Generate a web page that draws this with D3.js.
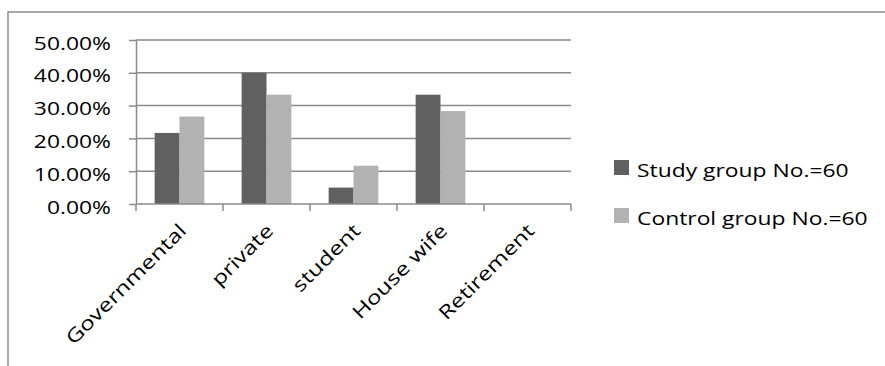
<!DOCTYPE html>
<html>
<head>
<meta charset="utf-8">
<script src="https://cdn.jsdelivr.net/npm/d3@7"></script>
<style>
  html, body { margin: 0; padding: 0; background: #fff; }
  svg { display: block; }
  text { font-family: "Open Sans", "Noto Sans", sans-serif; fill: #000; }
</style>
</head>
<body>
<svg id="chart" width="885" height="366"></svg>
<script>
// ---- data ----
const categories = ["Governmental", "private", "student", "House wife", "Retirement"];
const seriesNames = ["Study group No.=60", "Control group No.=60"];
const studyValues = [21.67, 40.00, 5.00, 33.33, 0];
const controlValues = [26.67, 33.33, 11.67, 28.33, 0];
const yTickValues = [0, 10, 20, 30, 40, 50];
const seriesColors = ["#606060", "#b2b2b2"];

// ---- layout ----
const W = 885, H = 366;
const plotLeft = 136, plotRight = 571, plotTop = 40, plotBottom = 204;
const sx = 1.27; // horizontal stretch of text
const fontSize = 18;
const gridColor = "#8a8a8a";

const svg = d3.select("#chart");

// outer frame (cut off at right and bottom)
svg.append("rect")
  .attr("x", 8).attr("y", 12)
  .attr("width", W + 20).attr("height", H + 20)
  .attr("fill", "none").attr("stroke", "#8c8c8c").attr("stroke-width", 1.5);

const x = d3.scaleBand().domain(categories).range([plotLeft, plotRight]).paddingInner(0).paddingOuter(0);
const bw = x.bandwidth() / 3.5;
const x1 = d3.scaleBand().domain(seriesNames).range([bw * 0.75, bw * 2.75]).padding(0);
const y = d3.scaleLinear().domain([0, 50]).range([plotBottom, plotTop]);

// gridlines
svg.append("g").selectAll("line").data(yTickValues.filter(v => v > 0)).join("line")
  .attr("x1", plotLeft).attr("x2", plotRight)
  .attr("y1", d => y(d)).attr("y2", d => y(d))
  .attr("stroke", gridColor).attr("stroke-width", 1.5);

// bars
const data = categories.map((c, i) => ({ cat: c, vals: [studyValues[i], controlValues[i]] }));
const groups = svg.append("g").selectAll("g").data(data).join("g")
  .attr("transform", d => `translate(${x(d.cat)},0)`);
groups.selectAll("rect").data(d => d.vals.map((v, j) => ({ v, s: seriesNames[j], j }))).join("rect")
  .attr("x", d => x1(d.s))
  .attr("width", x1.bandwidth())
  .attr("y", d => y(d.v))
  .attr("height", d => plotBottom - y(d.v))
  .attr("fill", d => seriesColors[d.j]);

// y axis
const yAxis = d3.axisLeft(y).tickValues(yTickValues).tickSize(7).tickSizeOuter(0)
  .tickFormat(d => d3.format(".2f")(d) + "%");
const gy = svg.append("g").attr("transform", `translate(${plotLeft},0)`).call(yAxis);
gy.select(".domain").attr("stroke", gridColor).attr("stroke-width", 1.5);
gy.selectAll(".tick line").attr("stroke", gridColor).attr("stroke-width", 1.5);
gy.selectAll(".tick text")
  .attr("font-family", "Open Sans").attr("font-size", fontSize)
  .attr("x", -25 / sx).attr("dy", null).attr("y", 9)
  .attr("text-anchor", "end")
  .attr("transform", `scale(${sx},1)`);

// x axis line + ticks at category boundaries
const gx = svg.append("g");
gx.append("line").attr("x1", plotLeft).attr("x2", plotRight)
  .attr("y1", plotBottom).attr("y2", plotBottom)
  .attr("stroke", gridColor).attr("stroke-width", 1.5);
const boundaries = categories.map(c => x(c)).concat([x(categories[categories.length - 1]) + x.bandwidth()]);
gx.selectAll("line.tk").data(boundaries).join("line").attr("class", "tk")
  .attr("x1", d => d).attr("x2", d => d)
  .attr("y1", plotBottom).attr("y2", plotBottom + 7)
  .attr("stroke", gridColor).attr("stroke-width", 1.5);

// rotated category labels
gx.selectAll("text").data(categories).join("text")
  .attr("transform", d => `translate(${x(d) + x.bandwidth() / 2 + 8},232) rotate(-45) scale(${sx},1)`)
  .attr("text-anchor", "end")
  .attr("font-size", 19)
  .text(d => d);

// legend
const legendY = [167.5, 215.5];
const lg = svg.append("g").selectAll("g").data(seriesNames).join("g")
  .attr("transform", (d, i) => `translate(614,${legendY[i]})`);
lg.append("rect").attr("x", 0).attr("y", -7.5).attr("width", 15).attr("height", 15)
  .attr("fill", (d, i) => seriesColors[i]);
lg.append("text")
  .attr("transform", `translate(23,9) scale(${sx},1)`)
  .attr("font-size", fontSize)
  .text(d => d);
</script>
</body>
</html>
